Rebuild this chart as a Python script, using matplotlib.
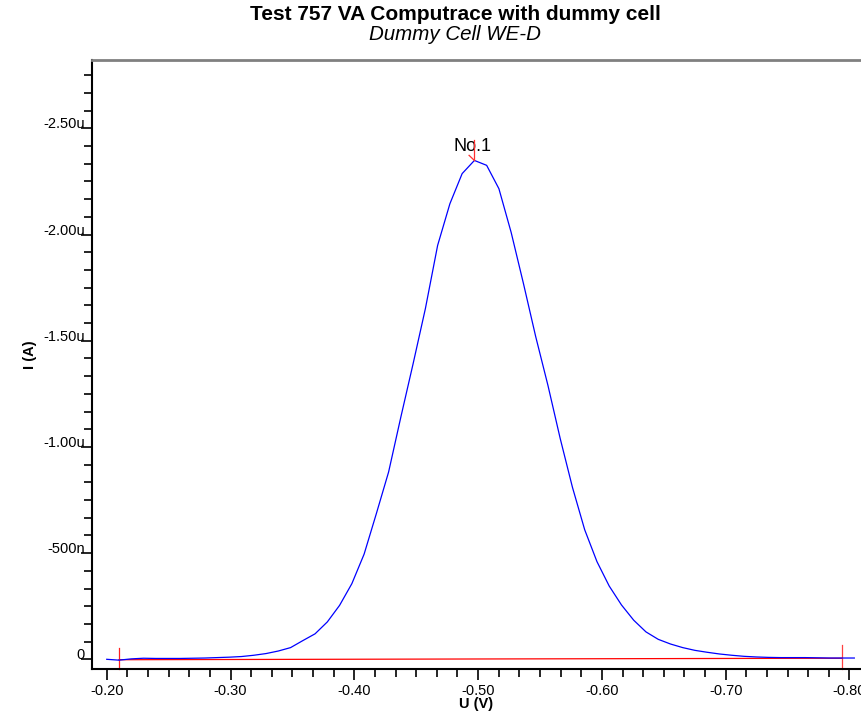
import matplotlib
matplotlib.use("Agg")
import matplotlib.pyplot as plt
from matplotlib.ticker import FixedLocator, FixedFormatter, MultipleLocator

plt.rcParams['font.family'] = ['Liberation Sans', 'DejaVu Sans']

# potential (V), scan from -0.20 to -0.80
potential = [-0.2000, -0.2099, -0.2198, -0.2297, -0.2396, -0.2495, -0.2594, -0.2693,
             -0.2792, -0.2891, -0.2990, -0.3089, -0.3188, -0.3287, -0.3386, -0.3485,
             -0.3584, -0.3683, -0.3782, -0.3881, -0.3980, -0.4079, -0.4178, -0.4277,
             -0.4376, -0.4475, -0.4574, -0.4673, -0.4772, -0.4871, -0.4970, -0.5069,
             -0.5168, -0.5267, -0.5366, -0.5465, -0.5564, -0.5663, -0.5762, -0.5861,
             -0.5960, -0.6059, -0.6158, -0.6257, -0.6356, -0.6455, -0.6554, -0.6653,
             -0.6752, -0.6851, -0.6950, -0.7049, -0.7148, -0.7247, -0.7346, -0.7445,
             -0.7544, -0.7643, -0.7742, -0.7841, -0.7940, -0.8039]
# current in microampere
current = [0.000, 0.004, -0.002, -0.005, -0.004, -0.004, -0.004, -0.005,
           -0.006, -0.008, -0.010, -0.013, -0.019, -0.027, -0.039, -0.055,
           -0.088, -0.120, -0.176, -0.254, -0.356, -0.495, -0.686, -0.882,
           -1.141, -1.392, -1.651, -1.949, -2.145, -2.287, -2.349, -2.326,
           -2.216, -2.010, -1.770, -1.520, -1.290, -1.040, -0.810, -0.610,
           -0.460, -0.345, -0.256, -0.184, -0.129, -0.094, -0.072, -0.055,
           -0.042, -0.033, -0.025, -0.019, -0.014, -0.011, -0.009, -0.008,
           -0.008, -0.008, -0.007, -0.006, -0.006, -0.006]

# baseline end points
base_u = [-0.2099, -0.7940]
base_i = [0.002, -0.005]
peak_u = -0.4970
peak_i = -2.349

xticks = [-0.20, -0.30, -0.40, -0.50, -0.60, -0.70, -0.80]
xlabels = ['-0.20', '-0.30', '-0.40', '-0.50', '-0.60', '-0.70', '-0.80']
yticks = [0, -0.5, -1.0, -1.5, -2.0, -2.5]
ylabels = ['0', '-500n', '-1.00u', '-1.50u', '-2.00u', '-2.50u']

fig = plt.figure(figsize=(8.61, 7.15), dpi=100)
ax = fig.add_axes([92/861, 46/715, 1 - 92/861, 609/715])

ax.plot(potential, current, color='#0000ff', lw=0.9, zorder=3)
ax.plot(base_u, base_i, color='#ff0000', lw=0.9, zorder=2)

# baseline limit markers
ax.plot([base_u[0], base_u[0]], [0.047, -0.052], color='#ff2020', lw=0.9, clip_on=False)
ax.plot([base_u[1], base_u[1]], [0.047, -0.067], color='#ff4040', lw=0.9, clip_on=False)
# peak marker
ax.plot([peak_u, peak_u], [peak_i, -2.445], color='#ff3030', lw=0.9, zorder=4)
ax.plot([-0.4927, peak_u], [-2.373, peak_i], color='#ff3030', lw=0.9, zorder=4)
ax.text(peak_u + 0.0015, -2.395, 'No.1', fontsize=13, ha='center', va='baseline')

ax.set_xlim(-0.1881, -0.8093)
ax.set_ylim(0.0457, -2.822)

ax.xaxis.set_major_locator(FixedLocator(xticks))
ax.xaxis.set_major_formatter(FixedFormatter(xlabels))
ax.xaxis.set_minor_locator(MultipleLocator(0.1 / 6))
ax.yaxis.set_major_locator(FixedLocator(yticks))
ax.yaxis.set_major_formatter(FixedFormatter(ylabels))
ax.yaxis.set_minor_locator(MultipleLocator(0.5 / 6))

ax.tick_params(axis='both', which='major', direction='out', length=8, width=1.2,
               labelsize=10.5, color='black')
ax.tick_params(axis='both', which='minor', direction='out', length=6, width=1.2)
ax.tick_params(axis='y', which='major', pad=-3)
ax.tick_params(axis='x', which='major', pad=3)
for lab in ax.get_yticklabels():
    lab.set_verticalalignment('baseline')

ax.spines['right'].set_visible(False)
ax.spines['top'].set_color('#808080')
ax.spines['top'].set_linewidth(2)
ax.spines['left'].set_linewidth(1.5)
ax.spines['bottom'].set_linewidth(1.5)

fig.text(476/861, 1 - 704/715, 'U (V)', fontsize=10.5, fontweight='bold', ha='center', va='center')
fig.text(30/861, 1 - 355/715, 'I (A)', fontsize=10.5, fontweight='bold', ha='center', va='center',
         rotation=90)
fig.text(455/861, 1 - 20/715, 'Test 757 VA Computrace with dummy cell', fontsize=15,
         fontweight='bold', ha='center', va='baseline')
fig.text(455/861, 1 - 40.5/715, 'Dummy Cell WE-D', fontsize=14.8, style='italic',
         ha='center', va='baseline')

fig.savefig('out.png', dpi=100)
